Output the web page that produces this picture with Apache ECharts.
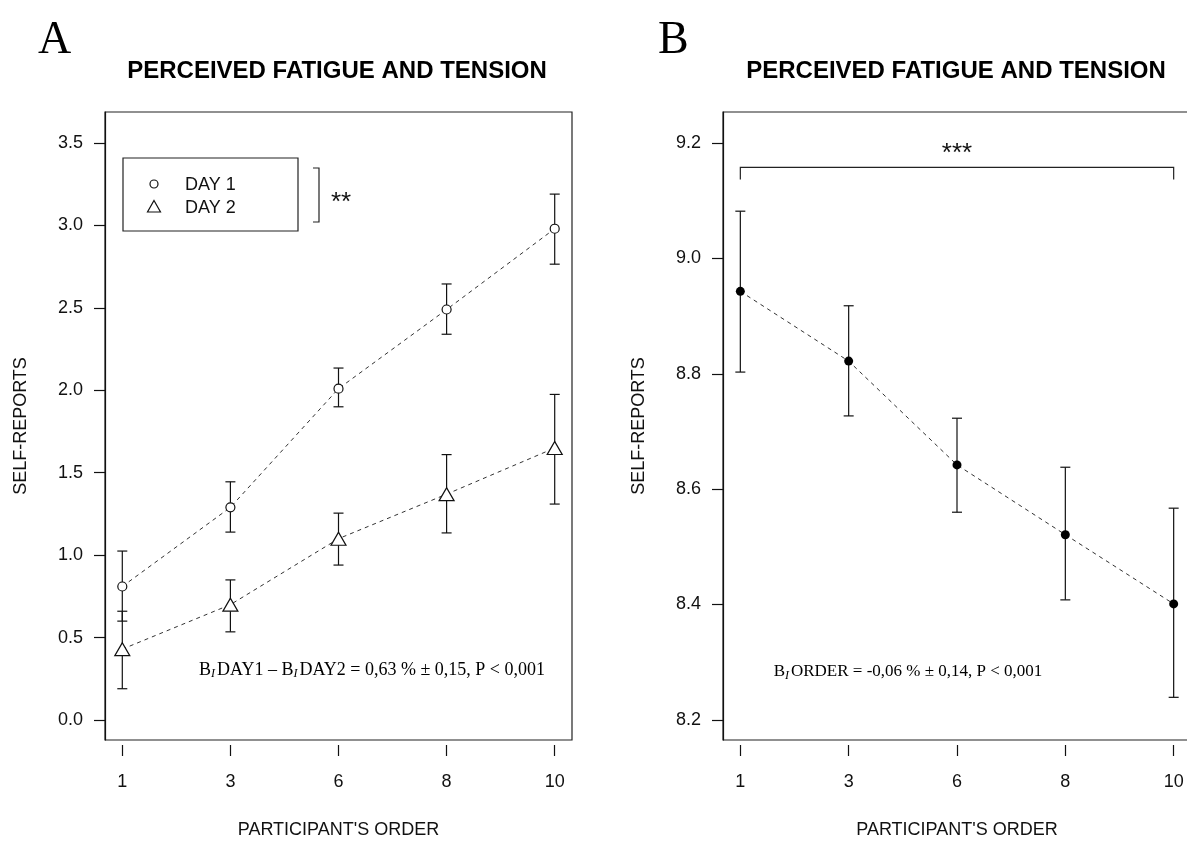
<!DOCTYPE html>
<html>
<head>
<meta charset="utf-8">
<script src="https://cdn.jsdelivr.net/npm/echarts@6/dist/echarts.min.js"></script>
<style>
html,body{margin:0;padding:0;background:#fff;}
#c{width:1187px;height:841px;}
</style>
</head>
<body>
<div id="c"></div>
<script>
// ---- data ----
const categories = ['1', '3', '6', '8', '10'];
const day1Mean = [0.81, 1.29, 2.01, 2.49, 2.98];
const day1Low  = [0.60, 1.14, 1.90, 2.34, 2.765];
const day1High = [1.025, 1.445, 2.135, 2.645, 3.19];
const day2Mean = [0.43, 0.70, 1.10, 1.37, 1.65];
const day2Low  = [0.19, 0.535, 0.94, 1.135, 1.31];
const day2High = [0.66, 0.85, 1.255, 1.61, 1.975];
const orderMean = [8.943, 8.822, 8.642, 8.521, 8.401];
const orderLow  = [8.803, 8.727, 8.560, 8.408, 8.239];
const orderHigh = [9.082, 8.918, 8.723, 8.638, 8.567];
const yTicksA = [0, 0.5, 1.0, 1.5, 2.0, 2.5, 3.0, 3.5];
const yTicksB = [8.2, 8.4, 8.6, 8.8, 9.0, 9.2];
const legendNames = ['DAY 1', 'DAY 2'];
const bracketB = [[1, 5, 9.158, 9.137]];

const xPos = categories.map((c, i) => i + 1);
const toPts = arr => arr.map((v, i) => [i + 1, v]);
const toErr = (lo, hi) => lo.map((v, i) => [i + 1, v, hi[i]]);

const SANS = "'Liberation Sans', Arial, sans-serif";
const SERIF = "'Liberation Serif', 'Times New Roman', serif";
const INK = '#111';

function errRender(params, api) {
  const x = api.value(0), lo = api.value(1), hi = api.value(2);
  const p1 = api.coord([x, lo]), p2 = api.coord([x, hi]);
  const w = 5;
  const style = { stroke: INK, lineWidth: 1.2, fill: null };
  return { type: 'group', children: [
    { type: 'line', shape: { x1: p1[0], y1: p1[1], x2: p2[0], y2: p2[1] }, style },
    { type: 'line', shape: { x1: p1[0] - w, y1: p1[1], x2: p1[0] + w, y2: p1[1] }, style },
    { type: 'line', shape: { x1: p2[0] - w, y1: p2[1], x2: p2[0] + w, y2: p2[1] }, style }
  ]};
}

function bracketRender(params, api) {
  const a = api.coord([api.value(0), api.value(3)]);
  const b = api.coord([api.value(0), api.value(2)]);
  const c = api.coord([api.value(1), api.value(2)]);
  const d = api.coord([api.value(1), api.value(3)]);
  return { type: 'group', children: [
    { type: 'polyline', shape: { points: [a, b, c, d] }, style: { stroke: '#222', lineWidth: 1.2, fill: null } },
    { type: 'text', x: (b[0] + c[0]) / 2, y: b[1] - 14,
      style: { text: '***', font: '26px ' + SANS, fill: INK, align: 'center', verticalAlign: 'middle' } }
  ]};
}

function xAxisCfg(gi) {
  return {
    gridIndex: gi, type: 'value', min: 0.84, max: 5.16, offset: 5,
    axisLine: { show: false, onZero: false },
    axisTick: { customValues: xPos, length: 11, lineStyle: { color: INK, width: 1.2 } },
    axisLabel: { customValues: xPos, formatter: v => categories[Math.round(v) - 1], margin: 28,
      fontSize: 18, fontFamily: SANS, color: INK },
    splitLine: { show: false },
    name: "PARTICIPANT'S ORDER", nameLocation: 'middle', nameGap: 76,
    nameTextStyle: { fontSize: 18, fontFamily: SANS, color: INK }
  };
}
function yAxisCfg(gi, min, max, ticks) {
  return {
    gridIndex: gi, type: 'value', min: min, max: max,
    axisLine: { show: true, onZero: false, lineStyle: { color: INK, width: 1.2 } },
    axisTick: { customValues: ticks, length: 11, lineStyle: { color: INK, width: 1.2 } },
    axisLabel: { customValues: ticks, formatter: v => v.toFixed(1), margin: 22,
      fontSize: 18, fontFamily: SANS, color: INK },
    splitLine: { show: false },
    name: 'SELF-REPORTS', nameLocation: 'middle', nameGap: 75,
    nameTextStyle: { fontSize: 18, fontFamily: SANS, color: INK }
  };
}

const chart = echarts.init(document.getElementById('c'));
const option = {
  animation: false,
  backgroundColor: '#fff',
  grid: [
    { left: 105, top: 112, width: 467, height: 628, show: true, borderColor: '#222', borderWidth: 1.2,
      containLabel: false, outerBoundsMode: 'none' },
    { left: 723, top: 112, width: 468, height: 628, show: true, borderColor: '#222', borderWidth: 1.2,
      containLabel: false, outerBoundsMode: 'none' }
  ],
  xAxis: [xAxisCfg(0), xAxisCfg(1)],
  yAxis: [yAxisCfg(0, -0.121, 3.688, yTicksA), yAxisCfg(1, 8.165, 9.254, yTicksB)],
  series: [
    { type: 'custom', xAxisIndex: 0, yAxisIndex: 0, renderItem: errRender, data: toErr(day1Low, day1High), z: 1, silent: true },
    { type: 'custom', xAxisIndex: 0, yAxisIndex: 0, renderItem: errRender, data: toErr(day2Low, day2High), z: 1, silent: true },
    { type: 'custom', xAxisIndex: 1, yAxisIndex: 1, renderItem: errRender, data: toErr(orderLow, orderHigh), z: 1, silent: true },
    { type: 'custom', xAxisIndex: 1, yAxisIndex: 1, renderItem: bracketRender, data: bracketB, z: 1, silent: true },
    { name: legendNames[0], type: 'line', xAxisIndex: 0, yAxisIndex: 0, data: toPts(day1Mean),
      symbol: 'circle', symbolSize: 9, z: 3,
      itemStyle: { color: '#fff', borderColor: INK, borderWidth: 1.2 },
      lineStyle: { color: '#333', width: 1, type: [4, 4] } },
    { name: legendNames[1], type: 'line', xAxisIndex: 0, yAxisIndex: 0, data: toPts(day2Mean),
      symbol: 'triangle', symbolSize: [15, 13], z: 3,
      itemStyle: { color: '#fff', borderColor: INK, borderWidth: 1.2 },
      lineStyle: { color: '#333', width: 1, type: [4, 4] } },
    { name: 'ORDER', type: 'line', xAxisIndex: 1, yAxisIndex: 1, data: toPts(orderMean),
      symbol: 'circle', symbolSize: 9, z: 3,
      itemStyle: { color: '#000', borderColor: '#000', borderWidth: 0 },
      lineStyle: { color: '#333', width: 1, type: [4, 4] } }
  ],
  graphic: [
    { type: 'text', left: 38, top: 18, style: { text: 'A', font: '46px ' + SERIF, fill: '#000' } },
    { type: 'text', left: 658, top: 18, style: { text: 'B', font: '46px ' + SERIF, fill: '#000' } },
    { type: 'text', x: 337, y: 71, style: { text: 'PERCEIVED FATIGUE AND TENSION', font: 'bold 24px ' + SANS, fill: '#000', align: 'center', verticalAlign: 'middle' } },
    { type: 'text', x: 956, y: 71, style: { text: 'PERCEIVED FATIGUE AND TENSION', font: 'bold 24px ' + SANS, fill: '#000', align: 'center', verticalAlign: 'middle' } },
    // legend box
    { type: 'rect', shape: { x: 123, y: 158, width: 175, height: 73 }, style: { fill: '#fff', stroke: '#222', lineWidth: 1.2 }, z: 10 },
    { type: 'circle', shape: { cx: 154, cy: 184, r: 4 }, style: { fill: '#fff', stroke: INK, lineWidth: 1.2 }, z: 11 },
    { type: 'polygon', shape: { points: [[154, 200.5], [160.5, 212], [147.5, 212]] }, style: { fill: '#fff', stroke: INK, lineWidth: 1.2 }, z: 11 },
    { type: 'text', x: 185, y: 185, style: { text: legendNames[0], font: '18px ' + SANS, fill: INK, verticalAlign: 'middle' }, z: 11 },
    { type: 'text', x: 185, y: 208, style: { text: legendNames[1], font: '18px ' + SANS, fill: INK, verticalAlign: 'middle' }, z: 11 },
    { type: 'polyline', shape: { points: [[313, 168], [319, 168], [319, 222], [313, 222]] }, style: { stroke: '#222', lineWidth: 1.2, fill: null } },
    { type: 'text', x: 331, y: 203, style: { text: '**', font: '26px ' + SANS, fill: INK, verticalAlign: 'middle' } },
    // annotations
    { type: 'text', x: 372, y: 670, style: {
      text: '{n|B}{s|I}{n|DAY1 – }{n|B}{s|I}{n|DAY2 = 0,63 % ± 0,15, P < 0,001}',
      align: 'center', verticalAlign: 'middle',
      rich: { n: { fontFamily: SERIF, fontSize: 18, color: '#000' },
              s: { fontFamily: SERIF, fontSize: 12, fontStyle: 'italic', color: '#000', padding: [8, 2, 0, 0] } } } },
    { type: 'text', x: 908, y: 672, style: {
      text: '{n|B}{s|I}{n|ORDER = -0,06 % ± 0,14, P < 0,001}',
      align: 'center', verticalAlign: 'middle',
      rich: { n: { fontFamily: SERIF, fontSize: 17, color: '#000' },
              s: { fontFamily: SERIF, fontSize: 12, fontStyle: 'italic', color: '#000', padding: [8, 2, 0, 0] } } } }
  ]
};
chart.setOption(option);
</script>
</body>
</html>
